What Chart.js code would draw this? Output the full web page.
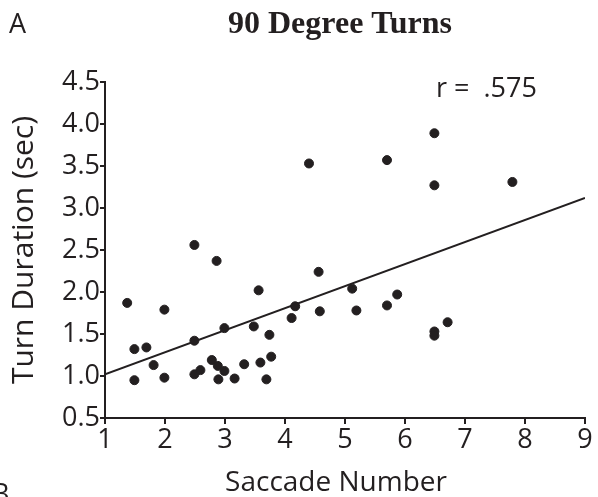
<!DOCTYPE html>
<html lang="en">
<head>
    <meta charset="UTF-8" />
    <title>90 Degree Turns</title>
    <style>
        body { margin: 0; background: #fff; }
    </style>
</head>
<body>
    <script src="https://cdn.jsdelivr.net/npm/chart.js"></script>
    <canvas id="chart" width="598" height="497"></canvas>
    <script>
        "use strict";
        // saccade number (x) and turn duration in seconds (y)
        const saccades = [
            1.37, 1.49, 1.49, 1.69, 1.81, 1.99, 1.99,
            2.49, 2.49, 2.49, 2.59, 2.78, 2.86, 2.88, 2.89, 2.99, 2.99,
            3.16, 3.32, 3.48, 3.56, 3.59, 3.69, 3.74, 3.77,
            4.11, 4.17, 4.40, 4.56, 4.58,
            5.12, 5.19, 5.70, 5.70, 5.87,
            6.49, 6.49, 6.49, 6.49, 6.71, 7.79
        ];
        const durations = [
            1.87, 1.32, 0.95, 1.34, 1.13, 1.79, 0.98,
            2.56, 1.42, 1.02, 1.07, 1.19, 2.37, 1.12, 0.96, 1.57, 1.06,
            0.97, 1.14, 1.59, 2.02, 1.16, 0.96, 1.49, 1.23,
            1.69, 1.83, 3.53, 2.24, 1.77,
            2.04, 1.78, 3.57, 1.84, 1.97,
            3.89, 3.27, 1.53, 1.48, 1.64, 3.31
        ];
        const fitX = [1, 9];
        const fitY = [1.02, 3.12];
        const xTicks = [1, 2, 3, 4, 5, 6, 7, 8, 9];
        const yTicks = [0.5, 1.0, 1.5, 2.0, 2.5, 3.0, 3.5, 4.0, 4.5];

        const ink = "#231f20";
        const sans = "'Open Sans', sans-serif";

        // panel letters, title, r value and x axis title
        const labels = {
            id: "labels",
            afterDraw(chart) {
                const c = chart.ctx;
                c.save();
                c.fillStyle = ink;
                c.textBaseline = "alphabetic";
                c.textAlign = "center";
                c.font = "bold 32px 'Liberation Serif', serif";
                c.fillText("90 Degree Turns", 340, 33);
                c.font = "28px " + sans;
                c.fillText("Saccade Number", 336, 491);
                c.textAlign = "left";
                c.font = "27px " + sans;
                c.fillText("A", 9, 33);
                c.fillText("B", -8, 503);
                c.fillText("r =  .575", 436, 97);
                c.restore();
            }
        };

        const ctx = document.getElementById("chart").getContext("2d");
        const myChart = new Chart(ctx, {
            type: "scatter",
            data: {
                datasets: [
                    {
                        data: saccades.map((x, i) => ({ x: x, y: durations[i] })),
                        backgroundColor: ink,
                        borderColor: ink,
                        pointRadius: 4.5,
                        pointHoverRadius: 4.5,
                    },
                    {
                        type: "line",
                        data: fitX.map((x, i) => ({ x: x, y: fitY[i] })),
                        borderColor: ink,
                        borderWidth: 2,
                        pointRadius: 0,
                        fill: false,
                    }
                ],
            },
            options: {
                responsive: false,
                animation: false,
                layout: {
                    padding: { left: 0, right: 13, top: 82, bottom: 0 }
                },
                plugins: {
                    legend: { display: false },
                    tooltip: { enabled: false },
                },
                scales: {
                    x: {
                        type: "linear",
                        min: 1,
                        max: 9,
                        afterFit: (s) => { s.height = 79; },
                        afterBuildTicks: (s) => { s.ticks = xTicks.map(v => ({ value: v })); },
                        border: { color: ink, width: 2 },
                        grid: { drawOnChartArea: false, drawTicks: true, tickLength: 6, color: ink, lineWidth: 2 },
                        ticks: { color: ink, padding: 0, font: { family: sans, size: 27 } },
                    },
                    y: {
                        type: "linear",
                        min: 0.5,
                        max: 4.5,
                        afterFit: (s) => { s.width = 105; },
                        afterBuildTicks: (s) => { s.ticks = yTicks.map(v => ({ value: v })); },
                        border: { color: ink, width: 2 },
                        grid: { drawOnChartArea: false, drawTicks: true, tickLength: 5, color: ink, lineWidth: 2 },
                        ticks: {
                            color: ink,
                            padding: 0,
                            font: { family: sans, size: 27 },
                            callback: (v) => v.toFixed(1),
                        },
                        title: {
                            display: true,
                            text: "Turn Duration (sec)",
                            color: ink,
                            font: { family: sans, size: 30 },
                            padding: { top: 6 },
                        },
                    },
                },
            },
            plugins: [labels],
        });
    </script>
</body>
</html>
